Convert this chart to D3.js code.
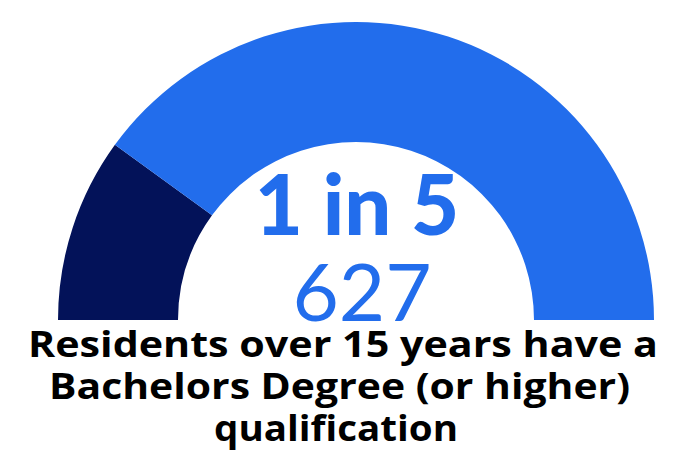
<!DOCTYPE html>
<html>
<head>
<meta charset="utf-8">
<script src="https://cdn.jsdelivr.net/npm/d3@7"></script>
<style>
  body { margin: 0; background: #fff; }
</style>
</head>
<body>
<div id="chart"></div>
<script>
// gauge data: 1 in 5 residents
const segments = ["Bachelors or higher", "Other"];
const segmentValues = [1, 4];
const segmentColors = ["#031259", "#226dec"];
const headline = "1 in 5";
const countLabel = "627";
const captionLines = ["Residents over 15 years have a", "Bachelors Degree (or higher)", "qualification"];

const width = 690, height = 455;
const cx = 356, cy = 320;

// caption layout (wider face in the original, so stretch the glyphs)
const captionX = [28, 49, 214];
const captionW = [630, 581, 244];

const svg = d3.select("#chart").append("svg")
    .attr("width", width)
    .attr("height", height);

const g = svg.append("g").attr("transform", `translate(${cx},${cy})`);

const pie = d3.pie()
    .sort(null)
    .value(d => d)
    .startAngle(-Math.PI / 2)
    .endAngle(Math.PI / 2);

const arc = d3.arc()
    .innerRadius(178)
    .outerRadius(298);

g.selectAll("path")
    .data(pie(segmentValues))
    .enter().append("path")
    .attr("d", arc)
    .attr("fill", (d, i) => segmentColors[i]);

// center labels
svg.append("text")
    .attr("x", cx + 1)
    .attr("y", 235)
    .attr("text-anchor", "middle")
    .style("font-family", "Lato")
    .style("font-weight", 900)
    .style("font-size", "83px")
    .attr("fill", "#226dec")
    .text(headline);

svg.append("text")
    .attr("x", cx + 6)
    .attr("y", 321)
    .attr("text-anchor", "middle")
    .style("font-family", "Lato")
    .style("font-weight", 400)
    .style("font-size", "80px")
    .attr("fill", "#226dec")
    .text(countLabel);

// caption
svg.selectAll(".caption")
    .data(captionLines)
    .enter().append("text")
    .attr("class", "caption")
    .attr("x", (d, i) => captionX[i])
    .attr("y", (d, i) => 357 + i * 42)
    .attr("textLength", (d, i) => captionW[i])
    .attr("lengthAdjust", "spacingAndGlyphs")
    .style("font-family", "Open Sans")
    .style("font-weight", 700)
    .style("font-size", "36px")
    .attr("fill", "#000")
    .text(d => d);
</script>
</body>
</html>
